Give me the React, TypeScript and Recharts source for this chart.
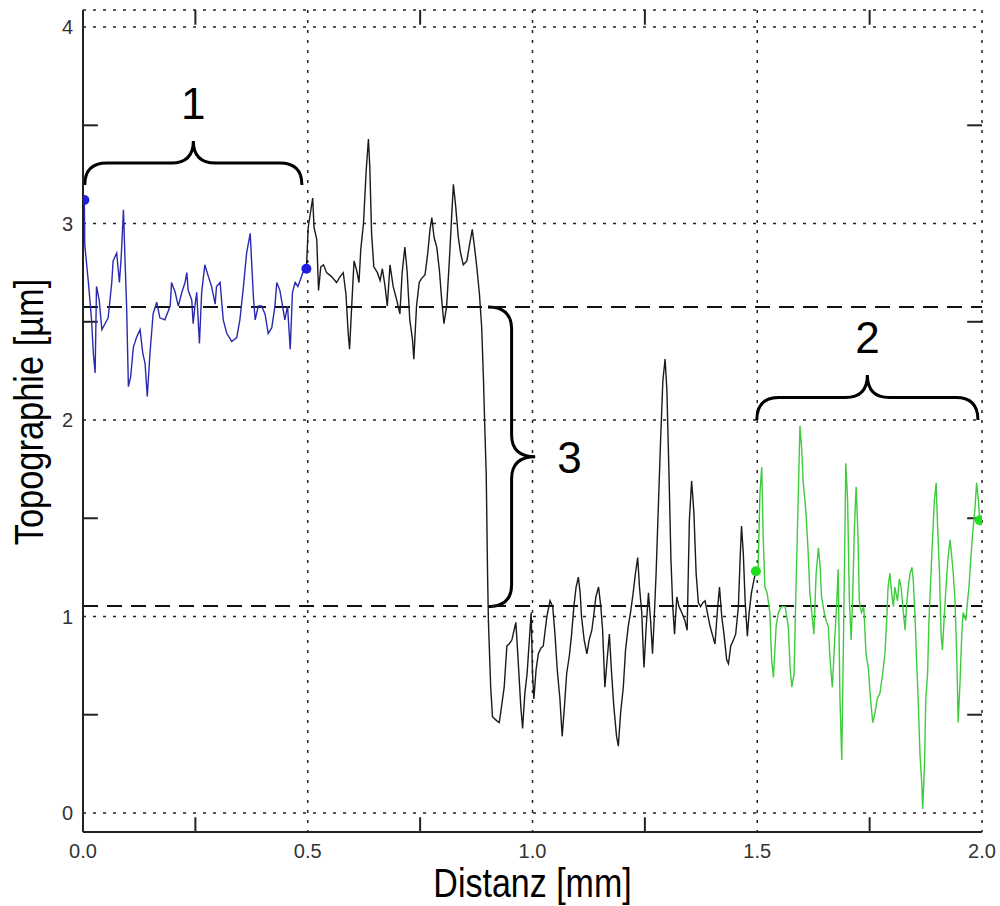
import React from "react";
import {
  LineChart,
  Line,
  XAxis,
  YAxis,
  CartesianGrid,
  ReferenceLine,
  ReferenceArea,
  Label,
} from "recharts";

// profile sections, distance in mm / topography in µm
const blueX = [0.003, 0.004, 0.012, 0.019, 0.023, 0.027, 0.030, 0.036, 0.042, 0.049, 0.056, 0.064, 0.067, 0.075, 0.081, 0.085, 0.090, 0.093, 0.097, 0.101, 0.106, 0.112, 0.119, 0.127, 0.133, 0.138, 0.143, 0.149, 0.156, 0.164, 0.171, 0.182, 0.194, 0.197, 0.205, 0.212, 0.220, 0.227, 0.231, 0.234, 0.242, 0.245, 0.249, 0.253, 0.259, 0.264, 0.271, 0.279, 0.286, 0.294, 0.297, 0.305, 0.312, 0.320, 0.331, 0.342, 0.349, 0.357, 0.364, 0.372, 0.375, 0.379, 0.383, 0.390, 0.397, 0.405, 0.412, 0.420, 0.427, 0.431, 0.438, 0.444, 0.449, 0.455, 0.461, 0.466, 0.472, 0.478, 0.483, 0.489, 0.497];
const blueY = [3.12, 2.89, 2.70, 2.51, 2.34, 2.24, 2.68, 2.61, 2.46, 2.49, 2.52, 2.70, 2.81, 2.85, 2.70, 2.83, 3.07, 2.85, 2.58, 2.17, 2.22, 2.37, 2.42, 2.46, 2.34, 2.29, 2.12, 2.34, 2.54, 2.60, 2.52, 2.51, 2.58, 2.70, 2.65, 2.58, 2.65, 2.70, 2.75, 2.66, 2.61, 2.49, 2.58, 2.65, 2.39, 2.65, 2.79, 2.73, 2.68, 2.59, 2.68, 2.70, 2.51, 2.44, 2.40, 2.42, 2.51, 2.68, 2.85, 2.95, 2.81, 2.63, 2.51, 2.58, 2.58, 2.54, 2.44, 2.47, 2.58, 2.70, 2.66, 2.58, 2.51, 2.58, 2.36, 2.65, 2.70, 2.68, 2.71, 2.75, 2.77];

const blackX = [0.497, 0.501, 0.511, 0.514, 0.520, 0.524, 0.529, 0.535, 0.542, 0.553, 0.564, 0.572, 0.579, 0.585, 0.590, 0.593, 0.598, 0.603, 0.609, 0.614, 0.618, 0.624, 0.630, 0.635, 0.638, 0.642, 0.647, 0.655, 0.661, 0.666, 0.672, 0.677, 0.683, 0.690, 0.698, 0.705, 0.710, 0.716, 0.721, 0.727, 0.733, 0.736, 0.742, 0.748, 0.753, 0.761, 0.767, 0.772, 0.776, 0.781, 0.787, 0.793, 0.798, 0.803, 0.809, 0.815, 0.820, 0.824, 0.829, 0.835, 0.840, 0.846, 0.854, 0.859, 0.866, 0.871, 0.876, 0.882, 0.887, 0.891, 0.894, 0.897, 0.900, 0.902, 0.907, 0.911, 0.920, 0.926, 0.931, 0.937, 0.943, 0.948, 0.954, 0.959, 0.963, 0.968, 0.974, 0.978, 0.983, 0.988, 0.993, 0.997, 1.000, 1.003, 1.008, 1.013, 1.019, 1.024, 1.032, 1.039, 1.045, 1.050, 1.055, 1.061, 1.066, 1.071, 1.076, 1.082, 1.087, 1.092, 1.097, 1.102, 1.106, 1.109, 1.115, 1.121, 1.126, 1.132, 1.137, 1.141, 1.147, 1.152, 1.156, 1.161, 1.166, 1.171, 1.176, 1.181, 1.187, 1.191, 1.196, 1.202, 1.207, 1.213, 1.218, 1.224, 1.229, 1.234, 1.238, 1.243, 1.246, 1.248, 1.253, 1.258, 1.263, 1.267, 1.270, 1.275, 1.280, 1.285, 1.290, 1.295, 1.299, 1.304, 1.308, 1.312, 1.316, 1.321, 1.326, 1.332, 1.339, 1.344, 1.349, 1.354, 1.359, 1.364, 1.369, 1.374, 1.379, 1.384, 1.389, 1.395, 1.401, 1.406, 1.411, 1.416, 1.421, 1.426, 1.432, 1.436, 1.441, 1.447, 1.452, 1.458, 1.462, 1.465, 1.469, 1.473, 1.478, 1.482, 1.487, 1.493, 1.497];
const blackY = [2.77, 2.98, 3.13, 2.98, 2.92, 2.66, 2.78, 2.79, 2.75, 2.73, 2.70, 2.73, 2.75, 2.64, 2.44, 2.36, 2.59, 2.81, 2.76, 2.70, 2.87, 3.00, 3.27, 3.43, 3.29, 2.95, 2.78, 2.75, 2.71, 2.77, 2.68, 2.58, 2.79, 2.68, 2.61, 2.54, 2.75, 2.88, 2.76, 2.51, 2.41, 2.31, 2.58, 2.70, 2.72, 2.74, 2.85, 2.97, 3.03, 2.93, 2.88, 2.76, 2.61, 2.49, 2.58, 2.81, 3.03, 3.20, 3.09, 2.93, 2.85, 2.79, 2.81, 2.88, 2.97, 2.88, 2.78, 2.64, 2.47, 2.20, 1.95, 1.73, 1.22, 0.97, 0.64, 0.49, 0.47, 0.46, 0.54, 0.64, 0.85, 0.86, 0.88, 0.93, 0.97, 0.78, 0.54, 0.43, 0.61, 0.71, 0.88, 1.02, 0.71, 0.58, 0.73, 0.81, 0.84, 0.85, 1.00, 1.08, 1.05, 0.91, 0.73, 0.58, 0.39, 0.54, 0.71, 0.80, 0.91, 1.05, 1.15, 1.20, 1.12, 1.00, 0.88, 0.81, 0.88, 0.93, 1.02, 1.10, 1.15, 1.05, 0.93, 0.64, 0.78, 0.91, 0.71, 0.54, 0.39, 0.34, 0.51, 0.64, 0.83, 0.95, 1.02, 1.12, 1.22, 1.30, 1.15, 1.02, 0.85, 0.74, 0.95, 1.12, 0.97, 0.81, 0.95, 1.22, 1.56, 1.90, 2.20, 2.31, 2.15, 1.69, 1.29, 1.05, 0.91, 1.10, 1.05, 1.02, 0.98, 0.93, 1.49, 1.69, 1.53, 1.22, 1.07, 1.05, 1.07, 1.08, 1.02, 0.95, 0.90, 0.86, 1.02, 1.15, 1.00, 0.91, 0.78, 0.76, 0.85, 0.88, 0.91, 1.05, 1.30, 1.46, 1.32, 1.08, 0.90, 1.02, 1.12, 1.19, 1.23];

const greenX = [1.497, 1.502, 1.506, 1.510, 1.513, 1.517, 1.522, 1.528, 1.532, 1.536, 1.542, 1.547, 1.554, 1.562, 1.569, 1.573, 1.577, 1.582, 1.586, 1.591, 1.595, 1.599, 1.602, 1.608, 1.613, 1.617, 1.623, 1.626, 1.631, 1.636, 1.640, 1.643, 1.649, 1.653, 1.658, 1.662, 1.667, 1.673, 1.677, 1.680, 1.684, 1.688, 1.692, 1.695, 1.697, 1.701, 1.705, 1.709, 1.712, 1.716, 1.720, 1.724, 1.727, 1.732, 1.737, 1.742, 1.747, 1.752, 1.757, 1.762, 1.767, 1.773, 1.779, 1.784, 1.788, 1.791, 1.795, 1.799, 1.803, 1.806, 1.812, 1.816, 1.820, 1.825, 1.829, 1.832, 1.836, 1.840, 1.844, 1.847, 1.851, 1.855, 1.858, 1.862, 1.866, 1.868, 1.872, 1.875, 1.879, 1.882, 1.886, 1.889, 1.894, 1.898, 1.901, 1.905, 1.909, 1.912, 1.916, 1.920, 1.924, 1.929, 1.932, 1.936, 1.940, 1.944, 1.947, 1.951, 1.955, 1.958, 1.964, 1.968, 1.971, 1.975, 1.979, 1.984, 1.988, 1.992, 1.995];
const greenY = [1.23, 1.25, 1.63, 1.76, 1.42, 1.15, 1.12, 1.02, 0.78, 0.69, 0.95, 1.02, 1.05, 1.05, 0.95, 0.74, 0.64, 0.71, 1.13, 1.59, 1.97, 1.85, 1.69, 1.54, 1.34, 1.12, 0.98, 0.91, 1.22, 1.35, 1.25, 1.10, 1.02, 0.98, 0.95, 0.78, 0.64, 0.91, 1.08, 1.24, 0.58, 0.27, 0.91, 1.42, 1.78, 1.59, 1.08, 0.88, 1.08, 1.44, 1.66, 1.42, 1.08, 1.02, 1.05, 0.81, 0.74, 0.58, 0.46, 0.51, 0.58, 0.61, 0.71, 0.81, 0.98, 1.15, 1.22, 1.12, 1.05, 1.15, 1.08, 1.19, 1.15, 1.02, 0.93, 1.05, 1.15, 1.22, 1.25, 1.19, 1.00, 0.74, 0.58, 0.30, 0.15, 0.02, 0.24, 0.58, 0.71, 0.98, 1.19, 1.35, 1.59, 1.68, 1.47, 1.25, 0.91, 0.83, 1.00, 1.15, 1.29, 1.39, 1.32, 1.22, 1.08, 0.78, 0.46, 0.66, 0.91, 1.02, 0.98, 1.08, 1.15, 1.29, 1.42, 1.54, 1.68, 1.59, 1.49];

const xTicks = [0, 0.5, 1, 1.5, 2];
const yTicks = [0, 1, 2, 3, 4];
const xMinor = [0.25, 0.75, 1.25, 1.75];
const yMinor = [0.5, 1.5, 2.5, 3.5];
const levels = [2.575, 1.053]; // upper / lower plateau

const toRows = (xs: number[], ys: number[]) => xs.map((x, i) => ({ x, y: ys[i] }));
const blueData = toRows(blueX, blueY);
const blackData = toRows(blackX, blackY);
const greenData = toRows(greenX, greenY);

const Y_MIN = -0.097;
const Y_MAX = 4.087;
const FONT = "'Liberation Sans', Arial, sans-serif";

const endDots = (n: number, color: string) => (props: any) => {
  const { cx, cy, index } = props;
  if (index === 0 || index === n - 1) {
    return <circle key={`d${index}`} cx={cx} cy={cy} r={5} fill={color} stroke="none" />;
  }
  return <g key={`d${index}`} />;
};

const XTick = (props: any) => {
  const { x, y, payload } = props;
  return (
    <text x={x} y={y} dy="0.71em" textAnchor="middle" fontFamily={FONT} fontSize={20} fill="#333">
      {Number(payload.value).toFixed(1)}
    </text>
  );
};

const YTick = (props: any) => {
  const { x, y, payload } = props;
  return (
    <text x={x - 2} y={y} dy="0.355em" textAnchor="end" fontFamily={FONT} fontSize={20} fill="#333">
      {payload.value}
    </text>
  );
};

// curly brace opening downward (horizontal), tip at the top
const HBrace = (label: string) => (props: any) => {
  const { x, y, width: w, height: h } = props;
  const cx = x + w / 2;
  const m = y + h / 2;
  const r = 22;
  const d = `M${x},${y + h} Q${x},${m} ${x + r},${m} L${cx - r},${m} Q${cx},${m} ${cx},${y} Q${cx},${m} ${cx + r},${m} L${x + w - r},${m} Q${x + w},${m} ${x + w},${y + h}`;
  return (
    <g>
      <path d={d} fill="none" stroke="#000" strokeWidth={3} />
      <text x={cx} y={y - 22} textAnchor="middle" fontFamily={FONT} fontSize={44} fill="#000">
        {label}
      </text>
    </g>
  );
};

// curly brace opening to the left (vertical), tip on the right
const VBrace = (label: string) => (props: any) => {
  const { x, y, width: w, height: h } = props;
  const cy = y + h / 2;
  const m = x + w / 2;
  const r = 22;
  const d = `M${x},${y} Q${m},${y} ${m},${y + r} L${m},${cy - r} Q${m},${cy} ${x + w},${cy} Q${m},${cy} ${m},${cy + r} L${m},${y + h - r} Q${m},${y + h} ${x},${y + h}`;
  return (
    <g>
      <path d={d} fill="none" stroke="#000" strokeWidth={3} />
      <text x={x + w + 22} y={cy + 16} textAnchor="start" fontFamily={FONT} fontSize={44} fill="#000">
        {label}
      </text>
    </g>
  );
};

const XTitle = (props: any) => {
  const { x, width } = props.viewBox;
  return (
    <text transform={`translate(${x + width / 2},897) scale(0.85,1)`} textAnchor="middle" fontFamily={FONT} fontSize={40} fill="#000">
      Distanz [mm]
    </text>
  );
};

const YTitle = (props: any) => {
  const { y, height } = props.viewBox;
  return (
    <text transform={`translate(43,${y + height / 2 - 9}) rotate(-90) scale(0.86,1)`} textAnchor="middle" fontFamily={FONT} fontSize={40} fill="#000">
      Topographie [µm]
    </text>
  );
};

export default function App() {
  return (
    <div style={{ position: "absolute", left: 0, top: 0, width: 1000, height: 906, background: "#fff" }}>
      <LineChart width={1000} height={906} margin={{ top: 10, right: 18, bottom: 0, left: 0 }}>
        <CartesianGrid stroke="#222" strokeWidth={1.5} strokeDasharray="3 7" />
        <XAxis
          type="number"
          dataKey="x"
          domain={[0, 2]}
          ticks={xTicks}
          allowDataOverflow
          tickLine={false}
          tick={XTick}
          tickMargin={6}
          axisLine={{ stroke: "#222", strokeWidth: 2 }}
          height={74}
        >
          <Label content={XTitle} />
        </XAxis>
        <XAxis
          xAxisId="top"
          orientation="top"
          type="number"
          domain={[0, 2]}
          height={0}
          tick={false}
          tickLine={false}
          axisLine={{ stroke: "#222", strokeWidth: 2 }}
        />
        <YAxis
          type="number"
          domain={[Y_MIN, Y_MAX]}
          ticks={yTicks}
          allowDataOverflow
          tickLine={false}
          tick={YTick}
          axisLine={{ stroke: "#222", strokeWidth: 2 }}
          width={83}
        >
          <Label content={YTitle} />
        </YAxis>
        <YAxis
          yAxisId="right"
          orientation="right"
          type="number"
          domain={[Y_MIN, Y_MAX]}
          width={0}
          tick={false}
          tickLine={false}
          axisLine={{ stroke: "#222", strokeWidth: 2 }}
        />

        {xMinor.map((v) => (
          <ReferenceLine key={`xb${v}`} segment={[{ x: v, y: Y_MIN }, { x: v, y: Y_MIN + 0.075 }]} stroke="#222" strokeWidth={2} ifOverflow="visible" />
        ))}
        {xMinor.map((v) => (
          <ReferenceLine key={`xt${v}`} segment={[{ x: v, y: Y_MAX }, { x: v, y: Y_MAX - 0.075 }]} stroke="#222" strokeWidth={2} ifOverflow="visible" />
        ))}
        {yMinor.map((v) => (
          <ReferenceLine key={`yl${v}`} segment={[{ x: 0, y: v }, { x: 0.033, y: v }]} stroke="#222" strokeWidth={2} ifOverflow="visible" />
        ))}
        {yMinor.map((v) => (
          <ReferenceLine key={`yr${v}`} segment={[{ x: 2, y: v }, { x: 1.967, y: v }]} stroke="#222" strokeWidth={2} ifOverflow="visible" />
        ))}

        {levels.map((v) => (
          <ReferenceLine key={`lv${v}`} y={v} stroke="#111" strokeWidth={2} strokeDasharray="15 9" />
        ))}

        <Line
          data={blackData}
          dataKey="y"
          type="linear"
          stroke="#1a1a1a"
          strokeWidth={1.4}
          dot={false}
          isAnimationActive={false}
        />
        <Line
          data={blueData}
          dataKey="y"
          type="linear"
          stroke="#2a2ab0"
          strokeWidth={1.4}
          dot={endDots(blueData.length, "#1e1ee0")}
          isAnimationActive={false}
        />
        <Line
          data={greenData}
          dataKey="y"
          type="linear"
          stroke="#3ccc3c"
          strokeWidth={1.4}
          dot={endDots(greenData.length, "#1ee01e")}
          isAnimationActive={false}
        />

        <ReferenceArea x1={0.004} x2={0.487} y1={3.196} y2={3.42} ifOverflow="visible" shape={HBrace("1")} />
        <ReferenceArea x1={1.499} x2={1.991} y1={2.0} y2={2.229} ifOverflow="visible" shape={HBrace("2")} />
        <ReferenceArea x1={0.901} x2={1.006} y1={1.05} y2={2.575} ifOverflow="visible" shape={VBrace("3")} />
      </LineChart>
    </div>
  );
}
